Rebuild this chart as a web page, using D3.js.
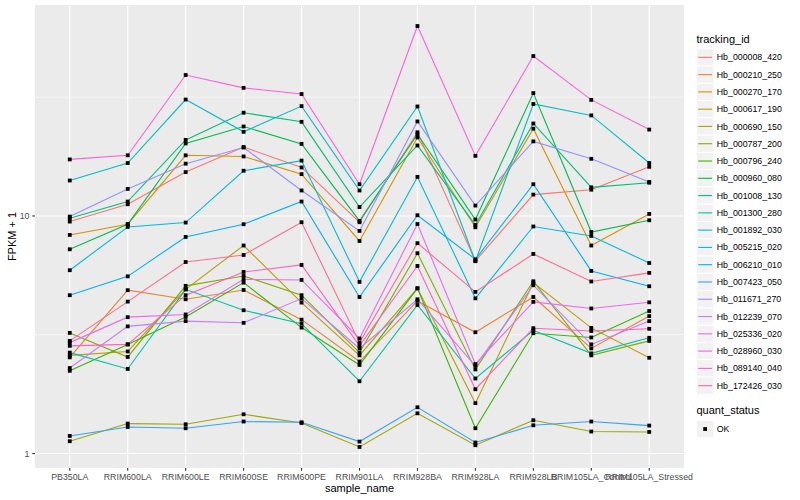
<!DOCTYPE html>
<html><head><meta charset="utf-8">
<script src="https://cdn.jsdelivr.net/npm/d3@7/dist/d3.min.js"></script>
<style>body{margin:0;background:#fff} text{font-family:"Liberation Sans",Arial,Helvetica,sans-serif}</style>
</head><body><svg id="c" width="800" height="500"></svg>
<script>
const samples = ["PB350LA","RRIM600LA","RRIM600LE","RRIM600SE","RRIM600PE","RRIM901LA","RRIM928BA","RRIM928LA","RRIM928LB","RRIM105LA_Control","RRIM105LA_Stressed"];
const trackingIds = ["Hb_000008_420","Hb_000210_250","Hb_000270_170","Hb_000617_190","Hb_000690_150","Hb_000787_200","Hb_000796_240","Hb_000960_080","Hb_001008_130","Hb_001300_280","Hb_001892_030","Hb_005215_020","Hb_006210_010","Hb_007423_050","Hb_011671_270","Hb_012239_070","Hb_025336_020","Hb_028960_030","Hb_089140_040","Hb_172426_030"];
// FPKM + 1 per sample, one array per tracking_id
const Hb_000008_420 = [9.47, 11.2, 15.3, 19.5, 16.0, 9.41, 22.5, 6.47, 12.3, 12.9, 16.1];
const Hb_000210_250 = [2.54, 4.87, 4.46, 4.88, 3.66, 2.44, 4.39, 3.24, 4.56, 2.77, 3.79];
const Hb_000270_170 = [8.32, 9.23, 18.0, 17.8, 15.0, 7.85, 21.4, 8.96, 23.3, 7.51, 10.2];
const Hb_000617_190 = [2.59, 2.69, 4.91, 7.51, 4.32, 2.59, 4.96, 1.63, 5.24, 3.38, 2.53];
const Hb_000690_150 = [1.127, 1.337, 1.328, 1.463, 1.345, 1.066, 1.477, 1.084, 1.381, 1.238, 1.233];
const Hb_000787_200 = [3.22, 2.55, 5.08, 5.59, 4.64, 2.66, 6.97, 2.26, 5.31, 2.59, 2.98];
const Hb_000796_240 = [2.23, 2.88, 3.76, 5.24, 3.39, 2.36, 4.96, 1.278, 3.21, 3.08, 3.98];
const Hb_000960_080 = [7.24, 9.23, 20.2, 23.8, 20.1, 9.53, 22.1, 9.66, 32.9, 8.56, 9.59];
const Hb_001008_130 = [9.78, 11.5, 20.9, 27.2, 24.9, 10.9, 19.8, 9.17, 24.5, 13.2, 13.8];
const Hb_001300_280 = [2.66, 2.27, 4.91, 4.01, 3.52, 2.015, 4.22, 2.07, 3.30, 2.64, 3.07];
const Hb_001892_030 = [14.1, 16.7, 30.9, 22.6, 29.0, 12.8, 28.9, 6.45, 29.6, 26.5, 16.7];
const Hb_005215_020 = [5.91, 8.99, 9.38, 15.5, 17.1, 5.28, 14.6, 4.50, 9.03, 8.24, 6.34];
const Hb_006210_010 = [4.64, 5.57, 8.16, 9.23, 11.5, 4.56, 10.07, 6.57, 13.6, 5.87, 5.06];
const Hb_007423_050 = [1.186, 1.294, 1.278, 1.364, 1.354, 1.123, 1.566, 1.113, 1.315, 1.364, 1.311];
const Hb_011671_270 = [9.94, 13.0, 16.6, 19.4, 12.8, 8.65, 25.0, 11.06, 20.6, 17.4, 13.9];
const Hb_012239_070 = [2.29, 3.43, 3.61, 3.55, 4.49, 2.77, 4.46, 2.34, 5.11, 2.88, 3.61];
const Hb_025336_020 = [2.93, 3.75, 3.85, 5.41, 5.38, 3.05, 9.25, 2.38, 4.35, 4.08, 4.33];
const Hb_028960_030 = [17.3, 18.0, 39.2, 34.6, 32.6, 13.6, 63.0, 17.9, 47.1, 30.8, 23.1];
const Hb_089140_040 = [2.84, 2.88, 4.64, 5.81, 6.22, 2.84, 6.16, 1.865, 3.37, 3.28, 3.35];
const Hb_172426_030 = [2.98, 4.36, 6.40, 6.85, 9.41, 2.93, 7.68, 4.79, 6.92, 5.30, 5.76];
const seriesValues = [Hb_000008_420,Hb_000210_250,Hb_000270_170,Hb_000617_190,Hb_000690_150,Hb_000787_200,Hb_000796_240,Hb_000960_080,Hb_001008_130,Hb_001300_280,Hb_001892_030,Hb_005215_020,Hb_006210_010,Hb_007423_050,Hb_011671_270,Hb_012239_070,Hb_025336_020,Hb_028960_030,Hb_089140_040,Hb_172426_030];
const palette = ["#F8766D","#EA8331","#D89000","#C09B00","#A3A500","#7CAE00","#39B600","#00BB4E","#00BF7D","#00C1A3","#00BFC4","#00BAE0","#00B0F6","#35A2FF","#9590FF","#C77CFF","#E76BF3","#FA62DB","#FF62BC","#FF6C91"];
const yTicks = [1, 10];
const yMinorTicks = [3.1623, 31.623];
const statusLevels = ["OK"];

const svg = d3.select("#c");
const P = {l:35, r:684, t:5, b:468};
const series = trackingIds.map((id,i)=>({id, color:palette[i], pts: samples.map((s,j)=>({s, v:seriesValues[i][j]}))}));
const all = seriesValues.flat();
const lmin = Math.log10(d3.min(all)), lmax = Math.log10(d3.max(all));
const pad = (lmax-lmin)*0.05;
const x = d3.scalePoint().domain(samples).range([P.l,P.r]).padding(0.6);
const y = d3.scaleLog().domain([Math.pow(10,lmin-pad), Math.pow(10,lmax+pad)]).range([P.b,P.t]);

svg.append("rect").attr("x",P.l).attr("y",P.t).attr("width",P.r-P.l).attr("height",P.b-P.t).attr("fill","#EBEBEB");
const g = svg.append("g");
g.selectAll(".ymin").data(yMinorTicks).join("line").attr("x1",P.l).attr("x2",P.r).attr("y1",d=>y(d)).attr("y2",d=>y(d)).attr("stroke","#fff").attr("stroke-width",0.55);
g.selectAll(".ymaj").data(yTicks).join("line").attr("x1",P.l).attr("x2",P.r).attr("y1",d=>y(d)).attr("y2",d=>y(d)).attr("stroke","#fff").attr("stroke-width",1.1);
g.selectAll(".xmaj").data(samples).join("line").attr("y1",P.t).attr("y2",P.b).attr("x1",d=>x(d)).attr("x2",d=>x(d)).attr("stroke","#fff").attr("stroke-width",1.1);

const line = d3.line().x(d=>x(d.s)).y(d=>y(d.v));
svg.append("g").selectAll("path").data(series).join("path").attr("d",d=>line(d.pts)).attr("fill","none").attr("stroke",d=>d.color).attr("stroke-width",1.1);
const ms = 3.8;
svg.append("g").selectAll("rect").data(series.flatMap(d=>d.pts)).join("rect")
  .attr("x",d=>x(d.s)-ms/2).attr("y",d=>y(d.v)-ms/2).attr("width",ms).attr("height",ms).attr("fill","#000");

// axes
const ax = svg.append("g");
ax.selectAll(".xt").data(samples).join("line").attr("x1",d=>x(d)).attr("x2",d=>x(d)).attr("y1",P.b).attr("y2",P.b+2.75).attr("stroke","#333").attr("stroke-width",1.1);
ax.selectAll(".xl").data(samples).join("text").attr("x",d=>x(d)).attr("y",480).attr("text-anchor","middle").attr("font-size",8.8).attr("fill","#4D4D4D").text(d=>d);
ax.selectAll(".yt").data(yTicks).join("line").attr("y1",d=>y(d)).attr("y2",d=>y(d)).attr("x1",P.l-2.75).attr("x2",P.l).attr("stroke","#333").attr("stroke-width",1.1);
ax.selectAll(".yl").data(yTicks).join("text").attr("x",P.l-5.5).attr("y",d=>y(d)).attr("dy","0.35em").attr("text-anchor","end").attr("font-size",8.8).attr("fill","#4D4D4D").text(d=>d3.format("d")(d));
svg.append("text").attr("x",(P.l+P.r)/2).attr("y",492).attr("text-anchor","middle").attr("font-size",11).attr("fill","#000").text("sample_name");
svg.append("text").attr("transform",`translate(16,${(P.t+P.b)/2}) rotate(-90)`).attr("text-anchor","middle").attr("font-size",11).attr("fill","#000").text("FPKM + 1");

// legend
const lx = 696.5, ky0 = 48.7, kh = 17.28;
svg.append("text").attr("x",lx).attr("y",43).attr("font-size",11).attr("fill","#000").text("tracking_id");
const lg = svg.append("g").selectAll("g").data(series).join("g").attr("transform",(d,i)=>`translate(${lx},${ky0+i*kh})`);
lg.append("rect").attr("width",kh).attr("height",kh).attr("fill","#F2F2F2").attr("stroke","#fff").attr("stroke-width",1);
lg.append("line").attr("x1",1.7).attr("x2",kh-1.7).attr("y1",kh/2).attr("y2",kh/2).attr("stroke",d=>d.color).attr("stroke-width",1.1);
lg.append("text").attr("x",kh+3).attr("y",kh/2).attr("dy","0.35em").attr("font-size",8.8).attr("fill","#000").text(d=>d.id);

svg.append("text").attr("x",lx).attr("y",414).attr("font-size",11).attr("fill","#000").text("quant_status");
const sg = svg.append("g").selectAll("g").data(statusLevels).join("g").attr("transform",(d,i)=>`translate(${lx},${420.4+i*kh})`);
sg.append("rect").attr("width",kh).attr("height",kh).attr("fill","#F2F2F2").attr("stroke","#fff");
sg.append("rect").attr("x",kh/2-ms/2).attr("y",kh/2-ms/2).attr("width",ms).attr("height",ms).attr("fill","#000");
sg.append("text").attr("x",kh+3).attr("y",kh/2).attr("dy","0.35em").attr("font-size",8.8).attr("fill","#000").text(d=>d);
</script></body></html>
